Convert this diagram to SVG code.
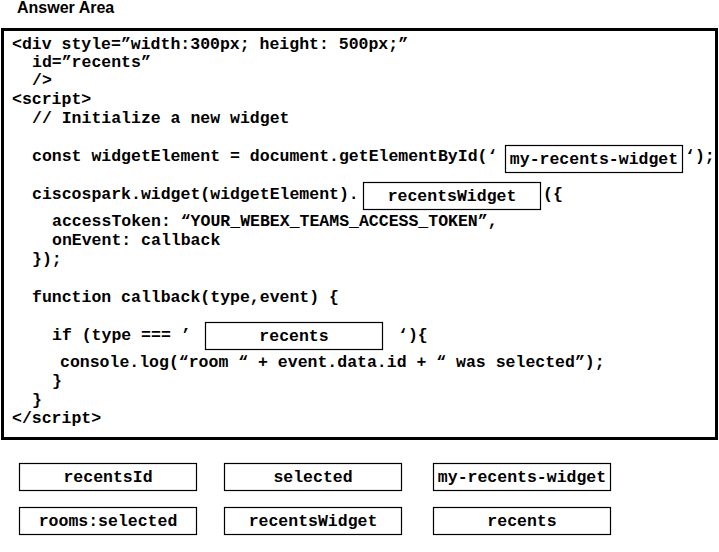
<svg xmlns="http://www.w3.org/2000/svg" width="719" height="552" viewBox="0 0 719 552">
<style>
.c{font-family:"Liberation Mono","Courier New",monospace;font-size:16.5px;font-weight:bold;fill:#000;white-space:pre}
.m{text-anchor:middle}
.b{fill:#fff;stroke:#000;stroke-width:1.2}
.t{font-family:"Liberation Sans",Arial,sans-serif;font-size:16px;font-weight:bold;fill:#000}
</style>
<rect width="719" height="552" fill="#fff"/>
<text class="t" x="17" y="13">Answer Area</text>
<g id="frame">
<rect x="2.5" y="29.5" width="714" height="409" fill="#fff" stroke="#000" stroke-width="3"/>
</g>
<g id="code">
<text class="c" x="12" y="49">&lt;div style=”width:300px; height: 500px;”</text>
<text class="c" x="32" y="67">id=”recents”</text>
<text class="c" x="32" y="85">/&gt;</text>
<text class="c" x="12" y="104">&lt;script&gt;</text>
<text class="c" x="32" y="123">// Initialize a new widget</text>
<text class="c" x="32" y="161">const widgetElement = document.getElementById(‘</text>
<text class="c" x="685" y="161">‘);</text>
<text class="c" x="32" y="199">ciscospark.widget(widgetElement).</text>
<text class="c" x="543" y="199">({</text>
<text class="c" x="52" y="226">accessToken: “YOUR_WEBEX_TEAMS_ACCESS_TOKEN”,</text>
<text class="c" x="52" y="245">onEvent: callback</text>
<text class="c" x="32" y="264">});</text>
<text class="c" x="32" y="302">function callback(type,event) {</text>
<text class="c" x="52" y="340">if (type === ’</text>
<text class="c" x="398" y="340">‘){</text>
<text class="c" x="60" y="367">console.log(“room “ + event.data.id + “ was selected”);</text>
<text class="c" x="52" y="386">}</text>
<text class="c" x="32" y="405">}</text>
<text class="c" x="12" y="423">&lt;/script&gt;</text>
</g>
<g id="slot-id">
<rect class="b" x="505.5" y="145.5" width="177" height="27"/>
<text class="c m" x="594" y="164">my-recents-widget</text>
</g>
<g id="slot-widget">
<rect class="b" x="363.5" y="182.5" width="177" height="27"/>
<text class="c m" x="452" y="201">recentsWidget</text>
</g>
<g id="slot-type">
<rect class="b" x="205.5" y="322.5" width="177" height="27"/>
<text class="c m" x="294" y="341">recents</text>
</g>
<g id="opt-recentsId">
<rect class="b" x="19.5" y="463.5" width="177" height="27"/>
<text class="c m" x="108" y="482">recentsId</text>
</g>
<g id="opt-selected">
<rect class="b" x="224.5" y="463.5" width="177" height="27"/>
<text class="c m" x="313" y="482">selected</text>
</g>
<g id="opt-my-recents-widget">
<rect class="b" x="433.5" y="463.5" width="177" height="27"/>
<text class="c m" x="522" y="482">my-recents-widget</text>
</g>
<g id="opt-rooms-selected">
<rect class="b" x="19.5" y="507.5" width="177" height="27"/>
<text class="c m" x="108" y="526">rooms:selected</text>
</g>
<g id="opt-recentsWidget">
<rect class="b" x="224.5" y="507.5" width="177" height="27"/>
<text class="c m" x="313" y="526">recentsWidget</text>
</g>
<g id="opt-recents">
<rect class="b" x="433.5" y="507.5" width="177" height="27"/>
<text class="c m" x="522" y="526">recents</text>
</g>
</svg>
